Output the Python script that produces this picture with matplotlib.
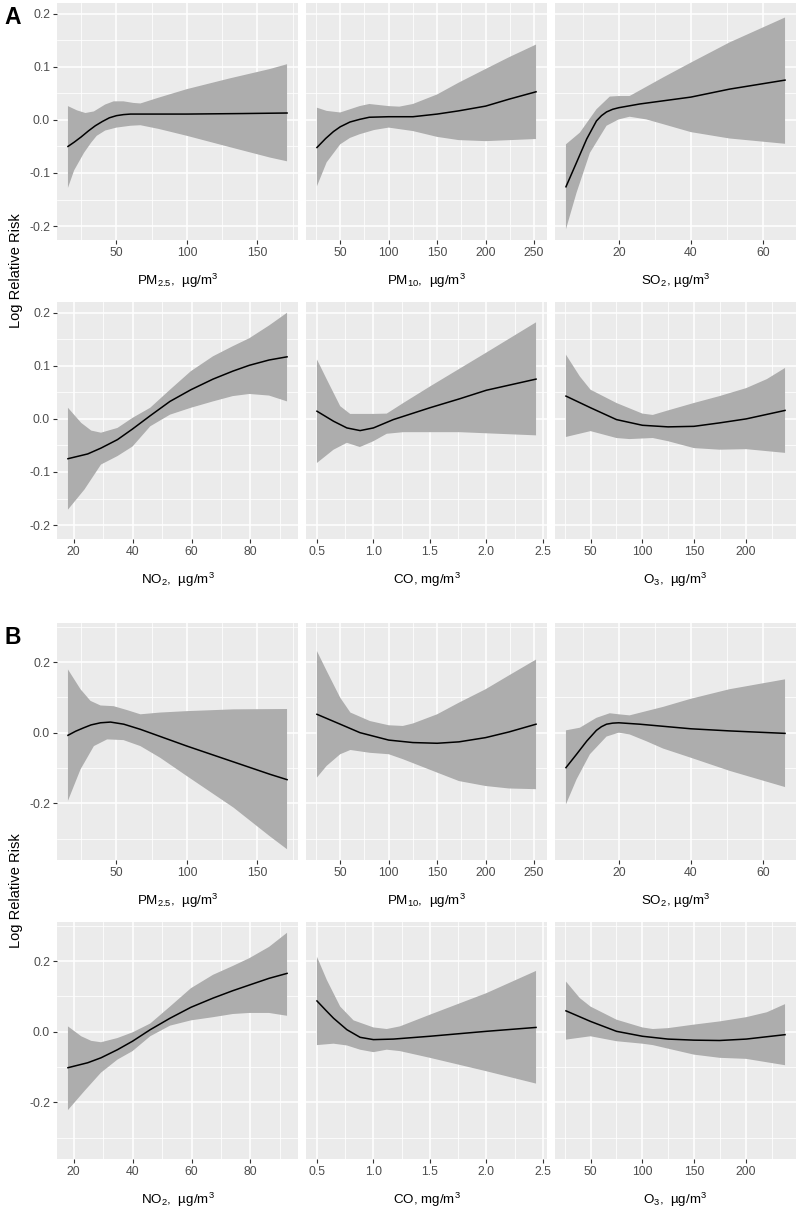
import numpy as np
import matplotlib
matplotlib.use("Agg")
import matplotlib.pyplot as plt
from matplotlib.ticker import FixedLocator, FormatStrFormatter

plt.rcParams['font.family'] = ['Liberation Sans', 'DejaVu Sans']
plt.rcParams['axes.unicode_minus'] = True
plt.rcParams['mathtext.fontset'] = 'custom'
plt.rcParams['mathtext.rm'] = 'Liberation Sans'
plt.rcParams['mathtext.it'] = 'Liberation Sans:italic'

# ---------------- Section A ----------------
a_pm25_fx = [15.6, 20, 25, 30, 35, 40, 45, 50, 55, 60, 100, 140, 171]
a_pm25_fy = [-0.050, -0.042, -0.032, -0.021, -0.011, -0.003, 0.004, 0.008, 0.010, 0.011, 0.011, 0.012, 0.013]
a_pm25_ux = [15.6, 22, 28, 34, 42, 48, 55, 62, 67, 80, 100, 130, 159, 171]
a_pm25_uy = [0.026, 0.018, 0.013, 0.016, 0.029, 0.035, 0.035, 0.032, 0.031, 0.042, 0.058, 0.078, 0.096, 0.105]
a_pm25_lx = [15.6, 20, 27, 32, 36, 42, 50, 60, 67, 80, 100, 130, 159, 171]
a_pm25_ly = [-0.128, -0.095, -0.062, -0.043, -0.030, -0.020, -0.0145, -0.011, -0.010, -0.017, -0.030, -0.051, -0.071, -0.078]

a_pm10_fx = [26, 35, 43, 50, 60, 70, 80, 100, 125, 150, 172, 200, 224, 252]
a_pm10_fy = [-0.052, -0.035, -0.022, -0.013, -0.004, 0.001, 0.005, 0.006, 0.006, 0.011, 0.017, 0.026, 0.039, 0.053]
a_pm10_ux = [26, 36, 50, 60, 70, 80, 100, 111, 125, 150, 172, 200, 224, 252]
a_pm10_uy = [0.023, 0.017, 0.014, 0.020, 0.026, 0.030, 0.026, 0.025, 0.030, 0.048, 0.070, 0.096, 0.118, 0.142]
a_pm10_lx = [26, 36, 50, 60, 70, 85, 100, 125, 150, 172, 200, 252]
a_pm10_ly = [-0.125, -0.080, -0.046, -0.034, -0.027, -0.019, -0.0145, -0.021, -0.032, -0.038, -0.040, -0.036]

a_so2_fx = [5.35, 8.3, 11.1, 13.8, 15.2, 16.6, 18.3, 20, 25.8, 40, 50.7, 66.1]
a_so2_fy = [-0.126, -0.080, -0.036, -0.002, 0.008, 0.015, 0.020, 0.023, 0.030, 0.043, 0.058, 0.075]
a_so2_ux = [5.35, 9.2, 13.8, 17.5, 20, 23, 32.3, 40, 50.7, 66.1]
a_so2_uy = [-0.046, -0.024, 0.020, 0.044, 0.045, 0.045, 0.080, 0.108, 0.146, 0.193]
a_so2_lx = [5.35, 8.3, 12, 16.6, 20, 23, 27.6, 32.3, 40, 50.7, 66.1]
a_so2_ly = [-0.206, -0.137, -0.062, -0.011, 0.001, 0.006, 0.001, -0.008, -0.023, -0.035, -0.045]

a_no2_fx = [18.1, 24.8, 29.3, 34.9, 40, 46, 52.7, 59.8, 67.3, 74, 79.6, 86.3, 92.4]
a_no2_fy = [-0.075, -0.066, -0.055, -0.039, -0.019, 0.006, 0.033, 0.055, 0.075, 0.090, 0.101, 0.111, 0.117]
a_no2_ux = [18.1, 22.6, 26, 29.3, 34.9, 40, 46, 52.7, 59.8, 67.3, 74, 79.6, 86.3, 92.4]
a_no2_uy = [0.021, -0.0075, -0.022, -0.026, -0.017, 0.002, 0.021, 0.055, 0.090, 0.118, 0.137, 0.152, 0.176, 0.200]
a_no2_lx = [18.1, 23.7, 29.3, 34.9, 40, 46, 52.7, 59.8, 67.3, 74, 79.6, 86.3, 92.4]
a_no2_ly = [-0.171, -0.133, -0.086, -0.070, -0.052, -0.014, 0.008, 0.021, 0.033, 0.043, 0.047, 0.044, 0.033]

a_co_fx = [0.5, 0.647, 0.765, 0.882, 1.0, 1.176, 1.5, 1.765, 2.0, 2.44]
a_co_fy = [0.0145, -0.0044, -0.017, -0.022, -0.017, -0.0013, 0.021, 0.038, 0.054, 0.075]
a_co_ux = [0.5, 0.588, 0.706, 0.794, 1.0, 1.118, 1.265, 1.5, 2.0, 2.44]
a_co_uy = [0.112, 0.074, 0.024, 0.0094, 0.0094, 0.010, 0.030, 0.061, 0.125, 0.182]
a_co_lx = [0.5, 0.647, 0.765, 0.88, 1.0, 1.118, 1.265, 1.765, 2.44]
a_co_ly = [-0.083, -0.058, -0.045, -0.053, -0.042, -0.028, -0.025, -0.025, -0.031]

a_o3_fx = [26.3, 50, 75, 100, 124.7, 149.7, 174.4, 200, 237.5]
a_o3_fy = [0.043, 0.021, -0.0013, -0.012, -0.015, -0.014, -0.0075, 0.0, 0.016]
a_o3_ux = [26.3, 39.7, 50, 75, 100, 110, 124.7, 149.7, 174.4, 200, 220, 237.5]
a_o3_uy = [0.121, 0.080, 0.055, 0.030, 0.010, 0.0075, 0.016, 0.030, 0.043, 0.058, 0.075, 0.096]
a_o3_lx = [26.3, 50, 75, 87.5, 110, 124.7, 149.7, 174.4, 200, 237.5]
a_o3_ly = [-0.034, -0.023, -0.036, -0.038, -0.036, -0.042, -0.055, -0.058, -0.057, -0.064]

# ---------------- Section B ----------------
b_pm25_fx = [15.6, 21, 26.9, 32, 38.7, 45.8, 55.2, 67, 100, 159, 171]
b_pm25_fy = [-0.0075, 0.004, 0.014, 0.022, 0.028, 0.030, 0.024, 0.0094, -0.038, -0.118, -0.133]
b_pm25_ux = [15.6, 24.5, 31.6, 38.7, 48, 57.5, 67, 81, 100, 133, 171]
b_pm25_uy = [0.179, 0.123, 0.090, 0.077, 0.075, 0.064, 0.052, 0.057, 0.061, 0.066, 0.067]
b_pm25_lx = [15.6, 24.5, 34, 43.4, 55, 67, 81, 100, 133, 159, 171]
b_pm25_ly = [-0.193, -0.104, -0.038, -0.019, -0.021, -0.038, -0.071, -0.123, -0.212, -0.294, -0.330]

b_pm10_fx = [26, 50, 70.4, 100, 125, 150, 172.5, 200, 224, 252]
b_pm10_fy = [0.052, 0.024, 0.0, -0.021, -0.028, -0.030, -0.026, -0.014, 0.002, 0.024]
b_pm10_ux = [26, 36, 50, 60.5, 80.6, 100, 114.6, 125, 150, 172.5, 200, 224, 252]
b_pm10_uy = [0.231, 0.175, 0.099, 0.057, 0.033, 0.021, 0.019, 0.026, 0.052, 0.085, 0.123, 0.162, 0.207]
b_pm10_lx = [26, 36, 50, 60.5, 80.6, 100, 114.6, 150, 172.5, 200, 224, 252]
b_pm10_ly = [-0.127, -0.094, -0.061, -0.049, -0.057, -0.061, -0.075, -0.113, -0.137, -0.151, -0.158, -0.160]

b_so2_fx = [5.35, 8.3, 11.1, 13.8, 15.2, 16.6, 18.3, 20, 25.8, 40, 50.7, 66.1]
b_so2_fy = [-0.099, -0.061, -0.024, 0.0066, 0.017, 0.024, 0.027, 0.028, 0.024, 0.011, 0.005, -0.002]
b_so2_ux = [5.35, 9.2, 13.8, 17.5, 20, 23, 32.3, 40, 50.7, 66.1]
b_so2_uy = [0.0066, 0.014, 0.042, 0.055, 0.052, 0.049, 0.073, 0.096, 0.123, 0.151]
b_so2_lx = [5.35, 8.3, 12, 16.6, 20, 23, 27.6, 32.3, 40, 50.7, 66.1]
b_so2_ly = [-0.203, -0.132, -0.061, -0.011, 0.0, -0.005, -0.024, -0.045, -0.071, -0.108, -0.154]

b_no2_fx = [18.1, 24.8, 29.3, 34.9, 40, 46, 52.7, 59.8, 67.3, 74, 79.6, 86.3, 92.4]
b_no2_fy = [-0.102, -0.088, -0.074, -0.051, -0.027, 0.0056, 0.038, 0.069, 0.095, 0.116, 0.132, 0.151, 0.165]
b_no2_ux = [18.1, 22.6, 26, 29.3, 34.9, 40, 46, 52.7, 59.8, 67.3, 74, 79.6, 86.3, 92.4]
b_no2_uy = [0.015, -0.013, -0.026, -0.030, -0.018, -0.002, 0.023, 0.071, 0.123, 0.161, 0.186, 0.208, 0.240, 0.280]
b_no2_lx = [18.1, 23.7, 29.3, 34.9, 40, 46, 52.7, 59.8, 67.3, 74, 79.6, 86.3, 92.4]
b_no2_ly = [-0.222, -0.168, -0.116, -0.079, -0.055, -0.013, 0.017, 0.032, 0.041, 0.050, 0.053, 0.053, 0.045]

b_co_fx = [0.5, 0.58, 0.647, 0.765, 0.882, 1.0, 1.176, 1.5, 2.0, 2.44]
b_co_fy = [0.087, 0.060, 0.038, 0.0056, -0.016, -0.0225, -0.021, -0.013, 0.001, 0.012]
b_co_ux = [0.5, 0.588, 0.706, 0.824, 1.0, 1.118, 1.235, 1.5, 2.0, 2.44]
b_co_uy = [0.212, 0.146, 0.071, 0.032, 0.012, 0.0075, 0.015, 0.048, 0.109, 0.172]
b_co_lx = [0.5, 0.647, 0.765, 0.882, 1.0, 1.118, 1.235, 1.5, 2.0, 2.44]
b_co_ly = [-0.038, -0.034, -0.039, -0.051, -0.058, -0.051, -0.055, -0.074, -0.112, -0.147]

b_o3_fx = [26.3, 50, 75, 100, 124.7, 149.7, 174.4, 200, 237.5]
b_o3_fy = [0.059, 0.029, 0.001, -0.013, -0.021, -0.024, -0.025, -0.021, -0.0085]
b_o3_ux = [26.3, 39.7, 50, 75, 100, 110, 124.7, 149.7, 174.4, 200, 220, 237.5]
b_o3_uy = [0.142, 0.095, 0.071, 0.034, 0.012, 0.0075, 0.010, 0.020, 0.029, 0.041, 0.055, 0.078]
b_o3_lx = [26.3, 50, 75, 100, 110, 124.7, 149.7, 174.4, 200, 237.5]
b_o3_ly = [-0.0225, -0.013, -0.027, -0.034, -0.038, -0.048, -0.065, -0.074, -0.077, -0.095]

# axis labels / ticks
xlabels = ['PM$_{2.5}$,  µg/m$^3$', 'PM$_{10}$,  µg/m$^3$', 'SO$_2$, µg/m$^3$',
           'NO$_2$,  µg/m$^3$', 'CO, mg/m$^3$', 'O$_3$,  µg/m$^3$']
xmajor = [[50, 100, 150], [50, 100, 150, 200, 250], [20, 40, 60],
          [20, 40, 60, 80], [0.5, 1.0, 1.5, 2.0, 2.5], [50, 100, 150, 200]]
xminor = [[25, 75, 125, 175], [25, 75, 125, 175, 225], [10, 30, 50],
          [30, 50, 70, 90], [0.75, 1.25, 1.75, 2.25], [25, 75, 125, 175, 225]]
xfmt = ['%d', '%d', '%d', '%d', '%.1f', '%d']
a_ymajor = [-0.2, -0.1, 0.0, 0.1, 0.2]
a_yminor = [-0.15, -0.05, 0.05, 0.15]
b_ymajor = [-0.2, 0.0, 0.2]
b_yminor = [-0.3, -0.1, 0.1, 0.3]
ylabel = 'Log Relative Risk'

sec_a = [(a_pm25_fx, a_pm25_fy, a_pm25_ux, a_pm25_uy, a_pm25_lx, a_pm25_ly),
         (a_pm10_fx, a_pm10_fy, a_pm10_ux, a_pm10_uy, a_pm10_lx, a_pm10_ly),
         (a_so2_fx, a_so2_fy, a_so2_ux, a_so2_uy, a_so2_lx, a_so2_ly),
         (a_no2_fx, a_no2_fy, a_no2_ux, a_no2_uy, a_no2_lx, a_no2_ly),
         (a_co_fx, a_co_fy, a_co_ux, a_co_uy, a_co_lx, a_co_ly),
         (a_o3_fx, a_o3_fy, a_o3_ux, a_o3_uy, a_o3_lx, a_o3_ly)]
sec_b = [(b_pm25_fx, b_pm25_fy, b_pm25_ux, b_pm25_uy, b_pm25_lx, b_pm25_ly),
         (b_pm10_fx, b_pm10_fy, b_pm10_ux, b_pm10_uy, b_pm10_lx, b_pm10_ly),
         (b_so2_fx, b_so2_fy, b_so2_ux, b_so2_uy, b_so2_lx, b_so2_ly),
         (b_no2_fx, b_no2_fy, b_no2_ux, b_no2_uy, b_no2_lx, b_no2_ly),
         (b_co_fx, b_co_fy, b_co_ux, b_co_uy, b_co_lx, b_co_ly),
         (b_o3_fx, b_o3_fy, b_o3_ux, b_o3_uy, b_o3_lx, b_o3_ly)]

W, H = 800, 1208
fig = plt.figure(figsize=(W / 100, H / 100), dpi=100)
col_left = [57, 306, 555]
pw = 241
row_tops = [[3, 302], [623, 922]]
ph = 237

BG = '#EBEBEB'
RIB = '#ADADAD'
TXT = '#4D4D4D'


def yrange(sec):
    lo = min(min(s[5]) for s in sec)
    hi = max(max(s[3]) for s in sec)
    pad = 0.05 * (hi - lo)
    return lo - pad, hi + pad


for si, (sec, ymaj, ymin_, tops) in enumerate([(sec_a, a_ymajor, a_yminor, row_tops[0]),
                                              (sec_b, b_ymajor, b_yminor, row_tops[1])]):
    ylim = yrange(sec)
    for k, d in enumerate(sec):
        r, c = divmod(k, 3)
        left = col_left[c] / W
        bottom = 1 - (tops[r] + ph) / H
        ax = fig.add_axes([left, bottom, pw / W, ph / H])
        ax.set_facecolor(BG)
        fx, fy, ux, uy, lx, ly = d
        xs = np.concatenate([ux, lx[::-1]])
        ys = np.concatenate([uy, ly[::-1]])
        ax.fill(xs, ys, color=RIB, lw=0, zorder=2)
        ax.plot(fx, fy, color='black', lw=1.1, zorder=3, solid_joinstyle='round')
        xmn = min(fx[0], ux[0], lx[0])
        xmx = max(fx[-1], ux[-1], lx[-1])
        pad = 0.05 * (xmx - xmn)
        ax.set_xlim(xmn - pad, xmx + pad)
        ax.set_ylim(*ylim)
        ax.xaxis.set_major_locator(FixedLocator(xmajor[k]))
        ax.xaxis.set_minor_locator(FixedLocator(xminor[k]))
        ax.xaxis.set_major_formatter(FormatStrFormatter(xfmt[k]))
        ax.yaxis.set_major_locator(FixedLocator(ymaj))
        ax.yaxis.set_minor_locator(FixedLocator(ymin_))
        ax.yaxis.set_major_formatter(FormatStrFormatter('%.1f'))
        ax.grid(which='major', color='white', lw=1.1, zorder=1)
        ax.grid(which='minor', color='white', lw=0.55, zorder=1)
        ax.set_axisbelow(True)
        for sp in ax.spines.values():
            sp.set_visible(False)
        ax.tick_params(which='minor', length=0)
        ax.tick_params(which='major', length=3, width=0.8, color='#333333',
                       labelsize=8.8, labelcolor=TXT, pad=2)
        if c != 0:
            ax.tick_params(axis='y', which='major', left=False, labelleft=False)
        ax.set_xlabel(xlabels[k], fontsize=9.6, color='black', labelpad=9)
    # section y label
    ymid = (tops[0] + tops[1] + ph) / 2
    fig.text(16 / W, 1 - ymid / H, ylabel, rotation=90, ha='center', va='center',
             fontsize=10.5, color='black')
    fig.text(13 / W, 1 - (tops[0] + 14) / H, 'AB'[si], fontsize=16.5, fontweight='bold',
             ha='center', va='center')

fig.savefig('out.png', dpi=100)
